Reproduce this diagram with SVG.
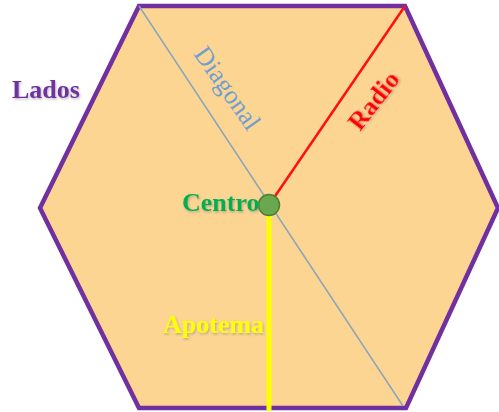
<svg xmlns="http://www.w3.org/2000/svg" width="499" height="412" viewBox="0 0 499 412">
<defs>
<style>
.lbl{font-family:"Liberation Serif","Times New Roman",serif;font-size:26px}
.b{font-weight:bold}
</style>
<filter id="sh" x="-20%" y="-20%" width="140%" height="140%">
<feDropShadow dx="1" dy="1.5" stdDeviation="0.8" flood-color="#777" flood-opacity="0.5"/>
</filter>
</defs>
<rect width="499" height="412" fill="#ffffff"/>
<g id="hexagon">
<polygon points="139,6 405,6 498,208 406,408 139,408 40,208" fill="#fdd592" stroke="#7030a0" stroke-width="4.5" stroke-linejoin="miter"/>
</g>
<g id="connectors">
<line id="diagonal" x1="139" y1="6" x2="403" y2="406" stroke="#8aa6bc" stroke-width="1.5"/>
<line id="radio" x1="269" y1="205" x2="405" y2="6" stroke="#ff1010" stroke-width="2.5"/>
<line id="apotema" x1="269" y1="205" x2="269" y2="411" stroke="#ffff00" stroke-width="5"/>
</g>
<g id="centro">
<circle cx="269" cy="205" r="10.5" fill="#6aa84f" stroke="#4f7f33" stroke-width="1.5"/>
</g>
<g id="labels">
<text class="lbl b" x="12" y="98" fill="#7030a0" filter="url(#sh)">Lados</text>
<text class="lbl" x="0" y="0" fill="#6f9fd0" font-size="27" transform="translate(193,54) rotate(55)">Diagonal</text>
<text class="lbl b" x="0" y="0" fill="#ff0000" filter="url(#sh)" transform="translate(360,132) rotate(-52)">Radio</text>
<text class="lbl b" x="182" y="211" fill="#00b050" filter="url(#sh)">Centro</text>
<text class="lbl b" x="163" y="333" fill="#ffff00" filter="url(#sh)">Apotema</text>
</g>
</svg>
